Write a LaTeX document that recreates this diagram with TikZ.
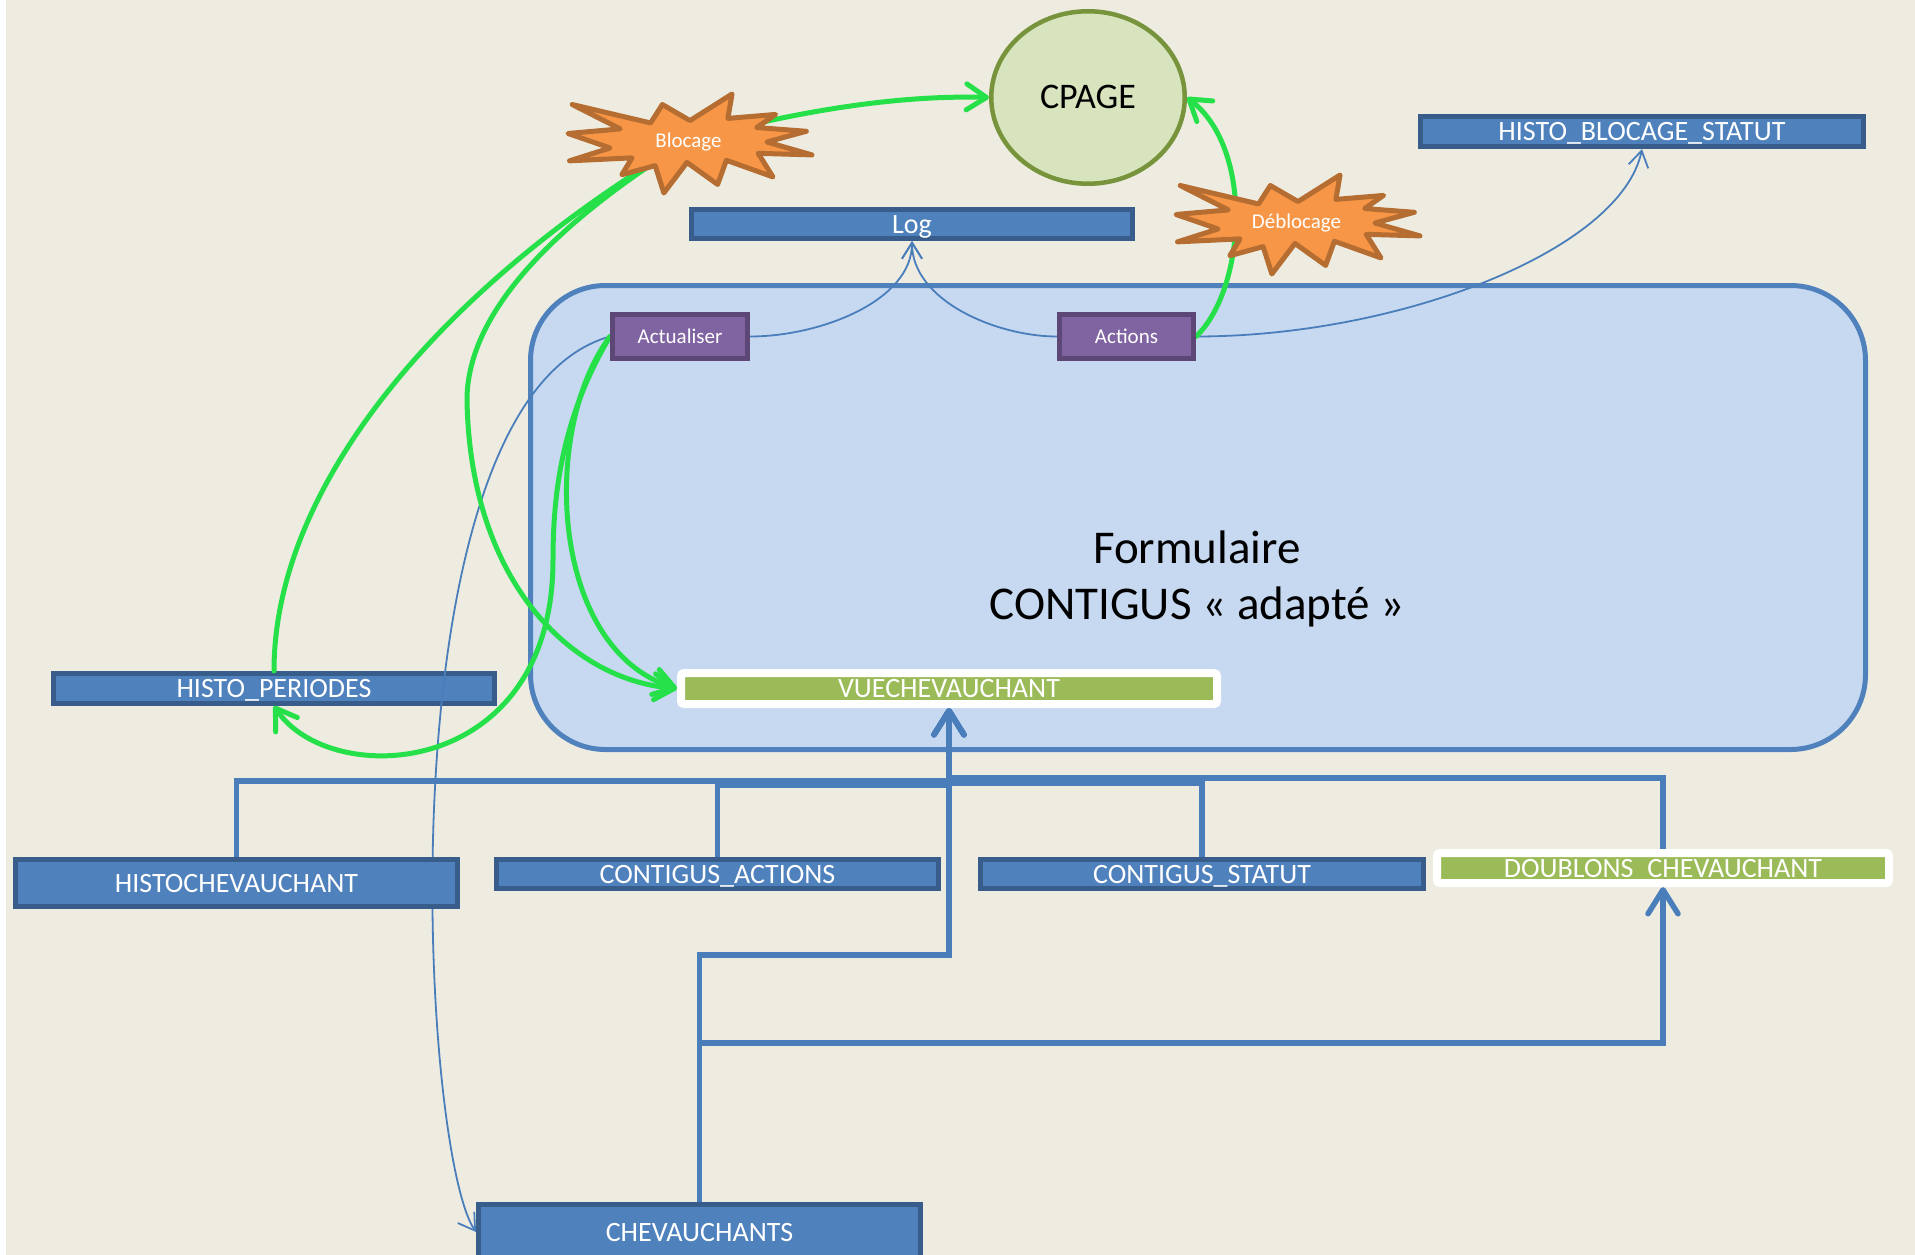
\documentclass[tikz,border=0pt]{standalone}
\usepackage{fontspec}
\setmainfont{Carlito}
\usetikzlibrary{shapes.geometric,arrows.meta}

\definecolor{bgtan}{HTML}{EEECE1}
\definecolor{tablefill}{HTML}{4F81BD}
\definecolor{tableline}{HTML}{385D8A}
\definecolor{actfill}{HTML}{8064A2}
\definecolor{actline}{HTML}{5C4776}
\definecolor{formfill}{HTML}{C6D9F1}
\definecolor{formline}{HTML}{4F81BD}
\definecolor{viewfill}{HTML}{9BBB59}
\definecolor{cpagefill}{HTML}{D7E4BD}
\definecolor{cpageline}{HTML}{77933C}
\definecolor{sealfill}{HTML}{F79646}
\definecolor{sealline}{HTML}{B66D31}
\definecolor{busblue}{HTML}{4A7EBB}
\definecolor{linkgreen}{RGB}{38,224,74}

\pgfdeclarelayer{back}
\pgfdeclarelayer{edges}
\pgfsetlayers{back,edges,main}

\tikzstyle{tablebox}=[rectangle, fill=tablefill, draw=tableline, line width=5pt, text=white, font=\fontsize{28}{34}\selectfont, inner sep=0pt, text height=18pt, text depth=0pt]
\tikzstyle{viewbox}=[rectangle, rounded corners=3pt, fill=viewfill, draw=white, line width=8pt, text=white, font=\fontsize{28}{34}\selectfont, inner sep=0pt, text height=18pt, text depth=0pt]
\tikzstyle{actionbox}=[rectangle, fill=actfill, draw=actline, line width=5pt, text=white, font=\fontsize{21}{25}\selectfont, inner sep=0pt, text height=13.5pt, text depth=0pt]
\tikzstyle{formbox}=[rectangle, rounded corners=75pt, fill=formfill, draw=formline, line width=5pt, minimum width=1335pt, minimum height=464pt, inner sep=0pt]
\tikzstyle{formtext}=[align=center, font=\fontsize{47}{56}\selectfont, inner sep=0pt]
\tikzstyle{cpagebox}=[ellipse, fill=cpagefill, draw=cpageline, line width=4.5pt, minimum width=193.5pt, minimum height=172.5pt, inner sep=0pt, font=\fontsize{36}{43}\selectfont, text height=23pt, text depth=0pt]
\tikzstyle{sealshape}=[fill=sealfill, draw=sealline, line width=5pt, line join=round]
\tikzstyle{sealtext}=[text=white, font=\fontsize{21}{25}\selectfont, inner sep=0pt, text height=13.5pt, text depth=0pt, minimum width=244pt, minimum height=99pt]
\tikzstyle{bus}=[draw=busblue, line width=5.5pt, -{Straight Barb[length=24pt,width=30pt,round]}]
\tikzstyle{thinlink}=[draw=busblue, line width=1.8pt, -{Straight Barb[length=16pt,width=20pt]}]
\tikzstyle{greenlink}=[draw=linkgreen, line width=5pt, line cap=round, -{Straight Barb[length=20pt,width=26pt,round]}]
\tikzstyle{greenline}=[draw=linkgreen, line width=5pt, line cap=round]

% explosion shape: name, left, top, text
\newcommand\seal[4]{%
  \begin{scope}[shift={(#2,#3)}, x=1.1296pt, y=-0.4583pt]
    \draw[sealshape] (108.00,58.00) -- (145.22,0) -- (141.55,53.25) -- (183.80,44.57)
      -- (167.02,73.15) -- (210.97,81.37) -- (176.07,104.75) -- (216.00,132.90)
      -- (168.37,129.42) -- (181.45,180.95) -- (140.20,144.57) -- (132.47,197.37)
      -- (105.32,149.35) -- (84.85,216.00) -- (77.15,156.27) -- (47.62,176.17)
      -- (56.67,139.37) -- (1.35,145.87) -- (37.22,117.75) -- (0,86.15)
      -- (46.27,76.17) -- (3.70,22.95) -- (73.12,63.20) -- (83.52,22.95) -- cycle;
  \end{scope}
  \node[sealtext] (#1) at (#2+120.5,#3+46.4) {#4};}

\begin{document}
\begin{tikzpicture}[x=1pt, y=-1pt]
\useasboundingbox (0,0) rectangle (1915,1255);
\begin{pgfonlayer}{back}
% Slide
    \fill[bgtan] (0,0) rectangle (1915,1255);
    \fill[white] (0,0) rectangle (6,1255);
    \node[formbox] (formulaire) at (1198,517.5) {};
    \node[tablebox, minimum width=441pt, minimum height=30pt] (histoper) at (274,688.5) {HISTO\_PERIODES};
\end{pgfonlayer}
% Tables
    \node[tablebox, minimum width=443pt, minimum height=30pt] (histoblocage) at (1642,131.5) {HISTO\_BLOCAGE\_STATUT};
    \node[tablebox, minimum width=441pt, minimum height=29pt] (log) at (912,224) {Log};
    \node[tablebox, minimum width=442pt, minimum height=47pt] (histochev) at (236.5,883) {HISTOCHEVAUCHANT};
    \node[tablebox, minimum width=442pt, minimum height=29pt] (contact) at (717.5,874) {CONTIGUS\_ACTIONS};
    \node[tablebox, minimum width=443pt, minimum height=29pt] (contstat) at (1202,874) {CONTIGUS\_STATUT};
    \node[tablebox, minimum width=442pt, minimum height=55pt] (chev) at (699.5,1232) {CHEVAUCHANTS};
% Views
    \node[viewbox, minimum width=536pt, minimum height=31pt] (vue) at (949,688.5) {VUECHEVAUCHANT};
    \node[viewbox, minimum width=452pt, minimum height=30pt] (doublons) at (1663,868) {DOUBLONS\_CHEVAUCHANT};
% Form
    \node[formtext] (formlabel) at (1197,579) {Formulaire\\CONTIGUS « adapté »};
    \node[actionbox, minimum width=135pt, minimum height=44pt] (actualiser) at (680,336.5) {Actualiser};
    \node[actionbox, minimum width=134pt, minimum height=44pt] (actions) at (1126.5,336.5) {Actions};
% CPAGE
    \node[cpagebox] (cpage) at (1088,97.5) {CPAGE};
    \seal{blocage}{568}{94}{Blocage}
    \seal{deblocage}{1176}{175}{Déblocage}
\begin{pgfonlayer}{edges}
% Table links
    \draw[bus] (histochev.north) -- ++(0,-76) -| (vue.south);
    \draw[bus] (contact.north) -- ++(0,-72) -| (vue.south);
    \draw[bus] (contstat.north) -- ++(0,-74) -| (vue.south);
    \draw[bus] (doublons.north) -- ++(0,-71) -| (vue.south);
    \draw[bus] (chev.north) -- ++(0,-247) -| (vue.south);
    \draw[bus] (chev.north) -- ++(0,-159) -| (doublons.south);
% Log links
    \draw[thinlink] (actualiser.east) .. controls +(70,0) and +(0,60) .. (log.south);
    \draw[thinlink] (actions.west) .. controls +(-60,0) and +(0,60) .. (log.south);
    \draw[thinlink] (actions.east) .. controls +(204,0) and +(-21,101) .. (histoblocage.south);
    \draw[thinlink] (actualiser.west) .. controls +(-230,64) and +(-56,-82) .. (chev.west);
% Green links
    \draw[greenlink] (blocage.center) .. controls (800,110) and (900,95) .. (cpage.west);
    \draw[greenline] (blocage.center) .. controls (450,280) and (274,480) .. (histoper.north);
    \draw[greenlink] (blocage.center) .. controls (560,220) and (467,310) .. (467,400)
        .. controls (470,580) and (570,680) .. (vue.west);
    \draw[greenlink] (actualiser.west) .. controls (540,430) and (550,650) .. (vue.west);
    \draw[greenlink] (actualiser.west) .. controls (560,420) and (553,500) .. (553,560)
        .. controls (553,780) and (330,790) .. (histoper.south);
    \draw[greenlink] (actions.east) .. controls (1245,290) and (1255,150) .. (cpage.east);
\end{pgfonlayer}
\end{tikzpicture}
\end{document}
